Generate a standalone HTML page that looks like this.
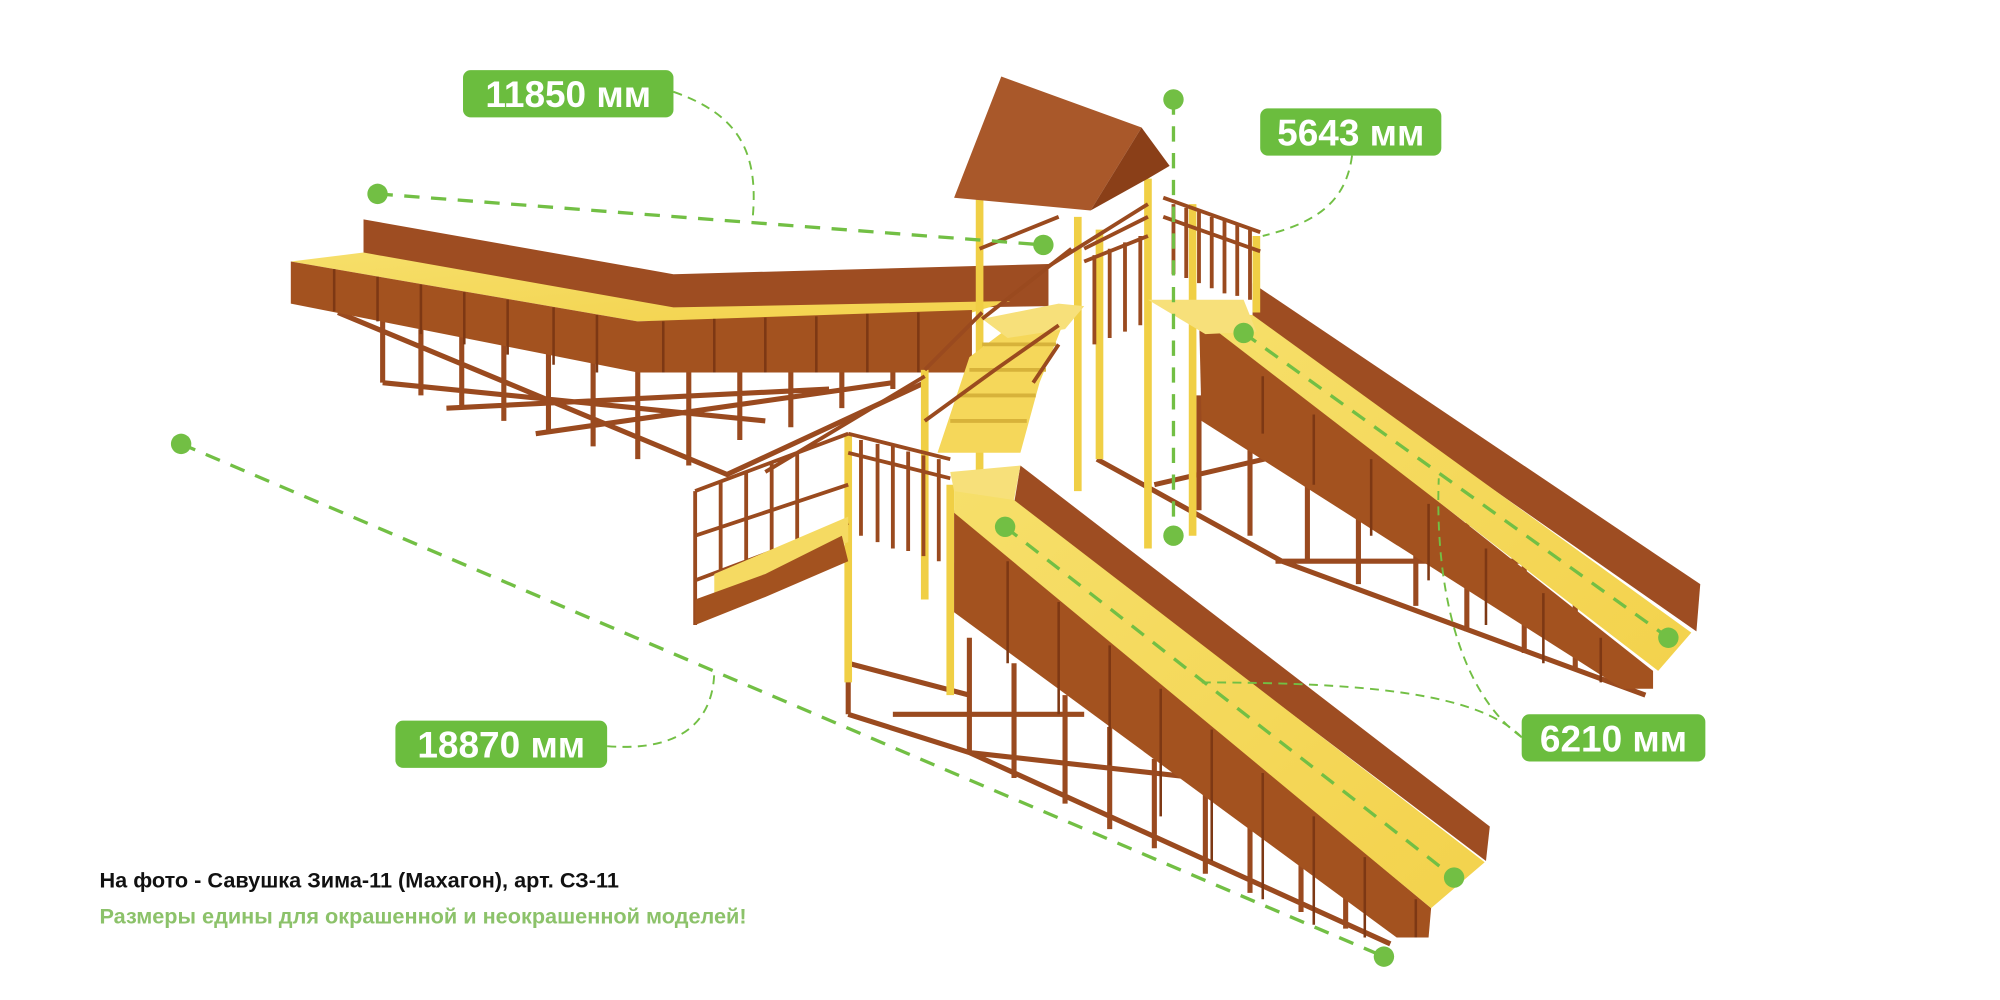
<!DOCTYPE html>
<html><head><meta charset="utf-8"><style>
html,body{margin:0;padding:0;background:#fff;width:2000px;height:1000px;overflow:hidden}
svg{display:block}
.lbl{font-family:"Liberation Sans","DejaVu Sans",sans-serif;font-size:29px;fill:#fff;font-weight:bold}
</style></head><body>
<svg width="2000" height="1000" viewBox="0 0 1568 784" preserveAspectRatio="none" xmlns="http://www.w3.org/2000/svg">
<defs>
<linearGradient id="yl" x1="0" y1="0" x2="1" y2="1"><stop offset="0" stop-color="#f6df6a"/><stop offset="1" stop-color="#f3d24c"/></linearGradient>
</defs>
<g stroke="#9a4a1f" stroke-width="4" fill="none">
<!-- left slide understructure -->
<path d="M265 245 L570 372 L725 300 M300 250 L300 300 M330 258 L330 310 M362 262 L362 320 M395 265 L395 330 M430 268 L430 340 M465 272 L465 350 M500 276 L500 360 M540 284 L540 365 M580 290 L580 345 M620 292 L620 335 M660 292 L660 320 M700 292 L700 305 M300 300 L600 330 M350 320 L650 305 M420 340 L700 300"/>
<!-- right back understructure -->
<path d="M860 360 L1005 440 L1290 545 M900 330 L900 385 M940 310 L940 400 M980 330 L980 420 M1025 350 L1025 440 M1065 370 L1065 458 M1110 390 L1110 475 M1150 410 L1150 495 M1195 430 L1195 512 M1235 455 L1235 525 M905 380 L1120 330 M1000 440 L1200 440"/>
<!-- right front understructure -->
<path d="M665 560 L760 590 L1090 740 M665 440 L665 560 M760 500 L760 590 M795 520 L795 610 M835 545 L835 630 M870 570 L870 650 M905 595 L905 665 M945 615 L945 685 M980 640 L980 700 M1020 660 L1020 715 M1055 690 L1055 728 M665 520 L760 545 M700 560 L850 560 M760 590 L940 610"/>
</g>
<!-- left slide -->
<polygon points="285,172 528,215 822,207 822,240 528,245 285,203" fill="#9e4d22"/>
<polygon points="228,205 285,198 528,241 792,236 762,245 500,252" fill="url(#yl)"/>
<polygon points="228,205 500,252 762,243 762,292 500,292 228,238" fill="#a3521f"/>
<g stroke="#7d3814" stroke-width="2">
<path d="M262 211 L262 244 M296 217 L296 252 M330 223 L330 262 M364 229 L364 270 M398 235 L398 278 M434 241 L434 286 M468 247 L468 292 M520 252 L520 292 M560 250 L560 292 M600 249 L600 292 M640 248 L640 292 M680 246 L680 292 M720 245 L720 292"/>
</g>
<!-- right back slide -->
<polygon points="940,245 1296,526 1296,540 1272,540 942,330" fill="#a3521f"/>
<polygon points="982,222 1333,458 1330,495 982,252" fill="#9e4d22"/>
<polygon points="935,245 982,247 1326,496 1300,526" fill="url(#yl)"/>
<g stroke="#7d3814" stroke-width="2"><path d="M990 295 L990 340 M1030 325 L1030 380 M1075 360 L1075 420 M1120 395 L1120 455 M1165 430 L1165 490 M1210 465 L1210 520 M1255 500 L1255 535"/></g>
<!-- tower posts -->
<g stroke="#f0cf45" stroke-width="6">
<path d="M768 155 L768 380 M845 170 L845 385 M900 140 L900 430 M985 185 L985 245 M935 160 L935 420 M862 180 L862 360 M725 290 L725 470 M745 380 L745 545 M665 340 L665 535"/>
</g>
<!-- stairs -->
<polygon points="735,355 760,280 800,250 835,250 815,300 800,355" fill="#f5d75a"/>
<g stroke="#d7b23a" stroke-width="3"><path d="M745 330 L805 330 M752 310 L812 310 M760 290 L820 290 M770 270 L828 270"/></g>
<!-- platform deck -->
<polygon points="770,250 830,238 850,240 835,258 790,265" fill="#f7e07a"/>
<polygon points="900,235 975,235 985,260 945,262" fill="#f7e07a"/>
<!-- roof -->
<polygon points="748,155 785,60 895,100 855,165" fill="#a9582a"/>
<polygon points="855,165 895,100 917,130 900,140" fill="#8a3f18"/>
<!-- railings brown -->
<g stroke="#9a4a1f" stroke-width="3" fill="none">
<path d="M912 155 L988 182 M912 170 L988 197 M920 160 L920 215 M930 163 L930 218 M940 166 L940 222 M950 170 L950 226 M960 173 L960 230 M970 176 L970 232 M980 180 L980 235"/>
<path d="M850 195 L900 170 M850 205 L900 185 M858 200 L858 270 M870 195 L870 265 M882 190 L882 260 M894 185 L894 255 M820 210 L900 160"/>
<path d="M768 195 L830 170 M725 290 L770 245 M770 250 L840 195 M725 330 L780 290 M780 290 L830 255 M810 300 L830 270"/>
<path d="M665 340 L745 360 M665 355 L745 375 M675 345 L675 420 M688 348 L688 425 M700 350 L700 430 M712 354 L712 432 M724 357 L724 436 M736 360 L736 440"/>
<path d="M545 385 L665 340 M545 385 L545 490 M565 378 L565 480 M585 370 L585 470 M605 362 L605 460 M625 355 L625 450 M545 420 L665 380 M545 455 L665 410 M600 370 L725 295"/>
</g>
<polygon points="560,450 665,405 665,425 600,450 560,470" fill="#f5da62"/>
<polygon points="545,470 600,450 660,420 665,440 600,468 545,490" fill="#a3521f"/>
<!-- right front slide -->
<polygon points="748,400 1122,712 1120,735 1095,735 748,480" fill="#a3521f"/>
<polygon points="800,365 1168,648 1165,675 795,395" fill="#9e4d22"/>
<polygon points="748,380 795,392 1164,676 1122,712 748,402" fill="url(#yl)"/>
<polygon points="745,370 800,365 795,392 748,385" fill="#f7e07a"/>
<g stroke="#7d3814" stroke-width="2"><path d="M790 440 L790 520 M830 472 L830 560 M870 506 L870 600 M910 540 L910 640 M950 572 L950 675 M990 606 L990 705 M1030 640 L1030 725 M1070 672 L1070 735 M1110 705 L1110 735"/></g>

<!-- dimension lines -->
<g stroke="#72bf44" stroke-width="2.6" stroke-dasharray="12 9" fill="none">
<path d="M296 152 L818 192"/>
<path d="M920 78 L920 420"/>
<path d="M142 348 L1085 750"/>
<path d="M975 261 L1308 500"/>
<path d="M788 413 L1140 688"/>
</g>
<g stroke="#72bf44" stroke-width="1.5" stroke-dasharray="7 5" fill="none">
<path d="M528 72 C580 90 595 120 590 172"/>
<path d="M1060 122 C1055 160 1030 175 990 185"/>
<path d="M476 585 C540 590 560 560 560 525"/>
<path d="M1193 578 C1160 545 1080 535 940 535"/>
<path d="M1193 578 C1140 540 1125 450 1128 375"/>
</g>
<g fill="#72bf44">
<circle cx="296" cy="152" r="8"/><circle cx="818" cy="192" r="8"/>
<circle cx="920" cy="78" r="8"/><circle cx="920" cy="420" r="8"/>
<circle cx="142" cy="348" r="8"/><circle cx="1085" cy="750" r="8"/>
<circle cx="975" cy="261" r="8"/><circle cx="1308" cy="500" r="8"/>
<circle cx="788" cy="413" r="8"/><circle cx="1140" cy="688" r="8"/>
</g>
<!-- labels -->
<g fill="#6bbd3e">
<rect x="363" y="55" width="165" height="37" rx="6"/>
<rect x="988" y="85" width="142" height="37" rx="6"/>
<rect x="310" y="565" width="166" height="37" rx="6"/>
<rect x="1193" y="560" width="144" height="37" rx="6"/>
</g>
<text class="lbl" x="445.5" y="84" text-anchor="middle">11850 мм</text>
<text class="lbl" x="1059" y="114" text-anchor="middle">5643 мм</text>
<text class="lbl" x="393" y="594" text-anchor="middle">18870 мм</text>
<text class="lbl" x="1265" y="589" text-anchor="middle">6210 мм</text>
<text x="78" y="696" font-family="Liberation Sans, DejaVu Sans, sans-serif" font-size="17" font-weight="bold" fill="#111">На фото - Савушка Зима-11 (Махагон), арт. СЗ-11</text>
<text x="78" y="724" font-family="Liberation Sans, DejaVu Sans, sans-serif" font-size="17" font-weight="bold" fill="#8cc26a">Размеры едины для окрашенной и неокрашенной моделей!</text>
</svg>
</body></html>
